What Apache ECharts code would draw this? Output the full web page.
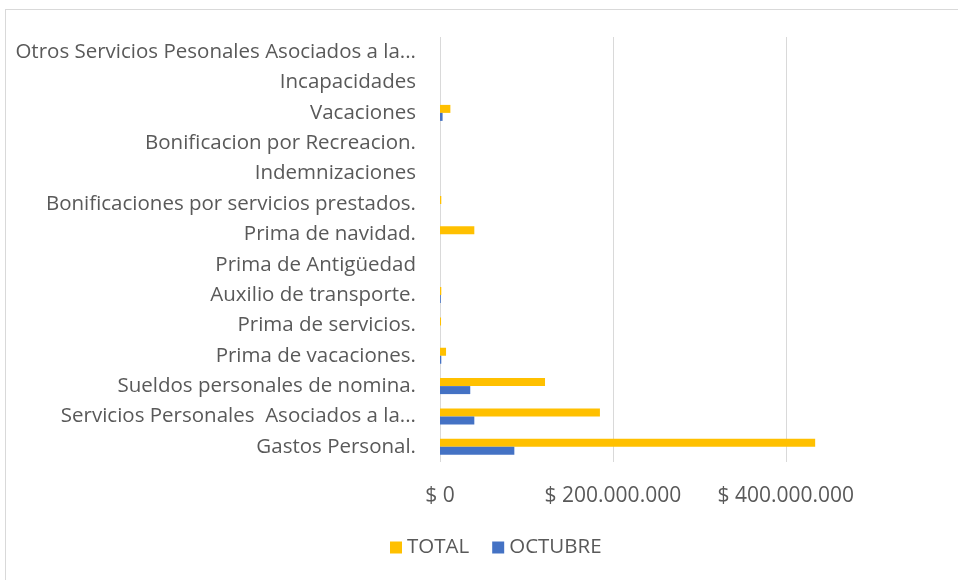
<!DOCTYPE html>
<html>
<head>
<meta charset="utf-8">
<script src="https://cdn.jsdelivr.net/npm/echarts@6/dist/echarts.min.js"></script>
<style>
  html, body { margin: 0; padding: 0; background: #fff; }
  #frame { position: absolute; left: 5px; top: 9px; width: 960px; height: 580px; border: 1px solid #d9d9d9; box-sizing: border-box; }
  #main { position: absolute; left: 0; top: 0; width: 958px; height: 580px; }
</style>
</head>
<body>
<div id="frame"></div>
<div id="main"></div>
<script>
// categorias de abajo hacia arriba
const categorias = [
  'Gastos Personal.',
  'Servicios Personales  Asociados a la...',
  'Sueldos personales de nomina.',
  'Prima de vacaciones.',
  'Prima de servicios.',
  'Auxilio de transporte.',
  'Prima de Antigüedad',
  'Prima de navidad.',
  'Bonificaciones por servicios prestados.',
  'Indemnizaciones',
  'Bonificacion por Recreacion.',
  'Vacaciones',
  'Incapacidades',
  'Otros Servicios Pesonales Asociados a la...'
]
const total = [434000000, 185000000, 121500000, 7000000, 1200000, 1500000, 0, 39700000, 1500000, 0, 0, 12000000, 0, 0]
const octubre = [86000000, 39700000, 35000000, 1500000, 0, 900000, 0, 0, 0, 0, 0, 3000000, 0, 0]
const ticksX = [0, 200000000, 400000000]

var myChart = echarts.init(document.getElementById('main'))

function pesos(v) {
  return '$ ' + String(Math.round(v)).replace(/\B(?=(\d{3})+(?!\d))/g, '.')
}

var option = {
  animation: false,
  textStyle: { fontFamily: 'Open Sans' },
  grid: { left: 440, right: 129, top: 37, bottom: 118 },
  legend: {
    bottom: 17,
    left: 385,
    itemWidth: 12,
    itemHeight: 12,
    itemGap: 23,
    icon: 'rect',
    data: ['TOTAL', 'OCTUBRE'],
    textStyle: { color: '#595959', fontSize: 20.5, fontFamily: 'Open Sans' }
  },
  xAxis: {
    type: 'value',
    min: 0,
    max: 450000000,
    axisLine: { show: false },
    axisTick: { show: false, customValues: ticksX },
    axisLabel: {
      customValues: ticksX,
      color: '#595959',
      fontSize: 21,
      margin: 24,
      formatter: pesos
    },
    splitLine: { lineStyle: { color: '#d9d9d9', width: 1 } }
  },
  yAxis: {
    type: 'category',
    data: categorias,
    axisLine: { show: false },
    axisTick: { show: false },
    axisLabel: { color: '#595959', fontSize: 20.5, margin: 24 }
  },
  series: [
    {
      name: 'TOTAL',
      type: 'bar',
      data: total,
      barWidth: 8,
      barGap: '0%',
      itemStyle: { color: '#FFC000' }
    },
    {
      name: 'OCTUBRE',
      type: 'bar',
      data: octubre,
      barWidth: 8,
      barGap: '0%',
      itemStyle: { color: '#4472C4' }
    }
  ]
}

myChart.setOption(option)
</script>
</body>
</html>
